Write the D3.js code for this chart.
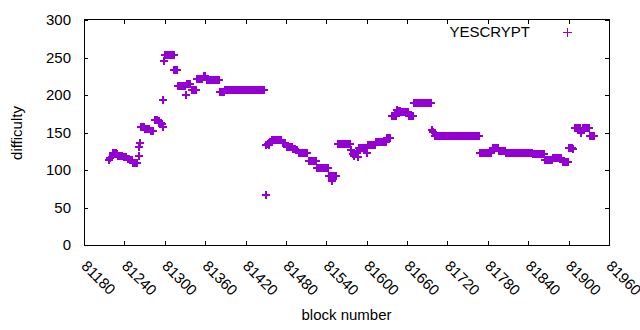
<!DOCTYPE html>
<html>
<head>
<meta charset="utf-8">
<script src="https://cdn.jsdelivr.net/npm/d3@7"></script>
<style>
    body { margin: 0; background: #fff; }
    svg { display: block; font-family: "Liberation Sans", Arial, sans-serif; }
</style>
</head>
<body>
<svg width="640" height="330"></svg>
<script>
// block numbers and difficulty
var blockNumbers = [
    81217, 81219, 81221, 81223, 81225, 81227, 81229,
    81231, 81233, 81235, 81237, 81239, 81241, 81243,
    81245, 81247, 81249, 81251, 81253, 81255, 81257, 81259,
    81261, 81262, 81263, 81265, 81267, 81269,
    81271, 81273, 81275, 81277, 81279, 81281, 81283,
    81285, 81287, 81289, 81291, 81292, 81294, 81296, 81297,
    81298, 81299, 81301, 81303, 81305, 81307, 81309, 81311, 81313,
    81314, 81316, 81318, 81320, 81322, 81324, 81326, 81328, 81330,
    81331, 81333, 81335, 81337, 81340, 81342, 81344, 81346,
    81348, 81350, 81352, 81354, 81356, 81358, 81360,
    81362, 81364, 81366, 81368, 81370, 81372, 81374, 81376, 81378, 81380,
    81382, 81384, 81386, 81388,
    81390, 81392, 81394, 81396, 81398, 81400, 81402, 81404, 81406, 81408, 81410, 81412, 81414, 81416, 81418,
    81420, 81422, 81424, 81426, 81428, 81430, 81432, 81434, 81436, 81438, 81440, 81442, 81444, 81446, 81448,
    81450,
    81451, 81453, 81455, 81457, 81459, 81461, 81463, 81465, 81467, 81469, 81471, 81473,
    81475, 81477, 81479, 81481, 81483, 81485, 81487, 81489,
    81491, 81493, 81495, 81497, 81499, 81501, 81503, 81505, 81507, 81509, 81511,
    81514, 81516, 81518, 81520, 81522, 81524,
    81526, 81528, 81530, 81532, 81534, 81536, 81538, 81540, 81542,
    81544, 81546, 81548, 81549, 81550, 81552, 81554,
    81557, 81559, 81561, 81563, 81565, 81567, 81569, 81571, 81573, 81575,
    81577, 81579, 81581, 81583, 81585, 81587,
    81589, 81591, 81593, 81595, 81597, 81599, 81600,
    81602, 81604, 81606, 81608, 81610, 81612,
    81614, 81616, 81618, 81620, 81622, 81624, 81626, 81628,
    81630, 81632, 81634, 81637, 81639, 81641, 81643,
    81645, 81647, 81649, 81651, 81653, 81655, 81657, 81659, 81661,
    81663, 81665, 81667, 81669,
    81671, 81673, 81675, 81677, 81679, 81681, 81683, 81685, 81687, 81689, 81691, 81693, 81695,
    81697, 81699,
    81701, 81703, 81705, 81707, 81709, 81711, 81713, 81715, 81717, 81719, 81721, 81723, 81725, 81727, 81729, 81731, 81733,
    81735, 81737, 81739, 81741, 81743, 81745, 81747, 81749, 81751, 81753, 81755, 81757, 81759, 81761, 81763, 81765, 81767,
    81769, 81771, 81773, 81775, 81777, 81779, 81781, 81783, 81785,
    81787, 81789, 81791, 81793, 81795, 81797, 81799, 81801, 81803, 81805,
    81807, 81809, 81811, 81813, 81815, 81817, 81819, 81821, 81823, 81825,
    81827, 81829, 81831, 81833, 81835, 81837, 81839, 81841, 81843, 81845,
    81847, 81849, 81851, 81853, 81855, 81857, 81859, 81861, 81863,
    81865, 81867, 81869, 81871, 81873, 81875,
    81877, 81879, 81881, 81883, 81885, 81887, 81889,
    81891, 81893, 81895, 81897, 81899,
    81901, 81903, 81905, 81907,
    81909, 81911, 81913, 81915, 81917, 81919, 81921, 81923, 81925, 81927, 81929, 81931,
    81932, 81934, 81936, 81938
];

var difficulty = [
    113, 116, 118, 122, 122, 122, 121,
    119, 119, 119, 119, 118, 118, 118,
    115, 115, 114, 114, 110, 110, 110, 110,
    119, 131, 136, 158, 158, 158,
    155, 155, 155, 155, 152, 152, 152,
    167, 167, 167, 166, 162, 162, 161, 157,
    193, 246, 254, 254, 254, 254, 254, 254, 254,
    233, 233, 233, 212, 212, 212, 212, 212, 212,
    200, 214, 214, 214, 207, 207, 207, 207,
    222, 222, 222, 222, 222, 225, 225,
    220, 220, 220, 220, 220, 220, 220, 220, 220, 220,
    204, 204, 204, 204,
    207, 207, 207, 207, 207, 207, 207, 207, 207, 207, 207, 207, 207, 207, 207,
    207, 207, 207, 207, 207, 207, 207, 207, 207, 207, 207, 207, 207, 207, 207,
    67,
    133, 135, 133, 137, 140, 140, 140, 140, 140, 140, 140, 140,
    136, 136, 136, 131, 131, 131, 131, 131,
    128, 128, 127, 127, 122, 122, 122, 122, 122, 122, 122,
    112, 112, 112, 112, 112, 112,
    103, 103, 103, 103, 103, 103, 103, 103, 103,
    92, 92, 92, 86, 92, 92, 92,
    135, 135, 135, 135, 135, 135, 135, 135, 135, 135,
    127, 121, 119, 121, 122, 118,
    129, 129, 129, 129, 129, 129, 122,
    133, 133, 133, 133, 133, 133,
    138, 138, 138, 138, 138, 138, 137, 137,
    143, 143, 143, 172, 172, 172, 172,
    180, 179, 179, 178, 178, 178, 178, 178, 178,
    172, 172, 172, 172,
    189, 189, 189, 189, 189, 189, 189, 189, 189, 189, 189, 189, 189,
    153, 151,
    146, 146, 146, 146, 146, 146, 146, 146, 146, 146, 146, 146, 146, 146, 146, 146, 146,
    146, 146, 146, 146, 146, 146, 146, 146, 146, 146, 146, 146, 146, 146, 146, 146, 146,
    123, 123, 123, 123, 123, 123, 123, 123, 123,
    130, 130, 130, 130, 130, 126, 126, 126, 126, 126,
    123, 123, 123, 123, 123, 123, 123, 123, 123, 123,
    123, 123, 123, 123, 123, 123, 123, 123, 123, 123,
    121, 121, 121, 121, 121, 121, 121, 121, 121,
    114, 114, 114, 114, 114, 114,
    116, 116, 116, 116, 116, 116, 116,
    111, 111, 111, 111, 111,
    129, 129, 129, 128,
    156, 156, 156, 156, 156, 150, 156, 156, 156, 156, 156, 156,
    145, 145, 145, 145
];

var xTicks = [81180, 81240, 81300, 81360, 81420, 81480, 81540, 81600, 81660, 81720, 81780, 81840, 81900, 81960];
var yTicks = [0, 50, 100, 150, 200, 250, 300];
var seriesName = "YESCRYPT";

var svg = d3.select("svg"),
    plotLeft = 84, plotRight = 609, plotTop = 20, plotBottom = 245,
    color = "#9400d3";

var x = d3.scaleLinear().domain([81180, 81960]).range([plotLeft, plotRight]);
var y = d3.scaleLinear().domain([0, 300]).range([plotBottom, plotTop]);

var data = blockNumbers.map(function (b, i) { return { block: b, value: difficulty[i] }; });

function plusPath(cx, cy) {
    cx = Math.round(cx); cy = Math.round(cy);
    return "M" + (cx - 4) + "," + cy + "H" + (cx + 4) +
           "M" + cx + "," + (cy - 4) + "V" + (cy + 4);
}

// points
svg.append("g")
    .selectAll("path")
    .data(data)
    .enter()
    .append("path")
    .attr("d", function (d) { return plusPath(x(d.block), y(d.value)); })
    .attr("stroke", color)
    .attr("stroke-width", 2)
    .attr("fill", "none")
    .attr("shape-rendering", "crispEdges");

// axes, ticks pointing inward
var xAxis = svg.append("g")
    .attr("transform", "translate(0," + plotBottom + ")")
    .call(d3.axisBottom(x).tickValues(xTicks).tickSize(-4).tickFormat(d3.format("d")));

xAxis.selectAll("text")
    .attr("x", 0).attr("y", 0).attr("dy", 0)
    .attr("text-anchor", "start")
    .attr("transform", "translate(-4,22) rotate(45)");

svg.append("g")
    .attr("transform", "translate(0," + plotTop + ")")
    .call(d3.axisTop(x).tickValues(xTicks).tickSize(-4).tickFormat(""));

svg.append("g")
    .attr("transform", "translate(" + plotLeft + ",0)")
    .call(d3.axisLeft(y).tickValues(yTicks).tickSize(-4).tickPadding(13));

svg.append("g")
    .attr("transform", "translate(" + plotRight + ",0)")
    .call(d3.axisRight(y).tickValues(yTicks).tickSize(-4).tickFormat(""));

svg.selectAll(".domain").remove();
svg.selectAll(".tick line").attr("stroke", "#000").attr("shape-rendering", "crispEdges");
svg.selectAll(".tick text")
    .attr("fill", "#000")
    .attr("font-size", "15px")
    .attr("font-family", "Liberation Sans, Arial, sans-serif");

// border
svg.append("rect")
    .attr("x", plotLeft + 0.5).attr("y", plotTop - 0.5)
    .attr("width", plotRight - plotLeft).attr("height", plotBottom - plotTop + 1)
    .attr("fill", "none")
    .attr("stroke", "#000")
    .attr("shape-rendering", "crispEdges");

// axis titles
svg.append("text")
    .attr("transform", "translate(22,133) rotate(-90)")
    .attr("text-anchor", "middle")
    .attr("font-size", "15px")
    .text("difficulty");

svg.append("text")
    .attr("x", (plotLeft + plotRight) / 2)
    .attr("y", 320)
    .attr("text-anchor", "middle")
    .attr("font-size", "15px")
    .text("block number");

// key
svg.append("text")
    .attr("x", 530).attr("y", 32)
    .attr("dy", "0.35em")
    .attr("text-anchor", "end")
    .attr("font-size", "15px")
    .text(seriesName);

svg.append("path")
    .attr("d", "M562.5,32.5H571.5M567,28V37")
    .attr("stroke", color)
    .attr("stroke-width", 1)
    .attr("fill", "none")
    .attr("shape-rendering", "crispEdges");
</script>
</body>
</html>
